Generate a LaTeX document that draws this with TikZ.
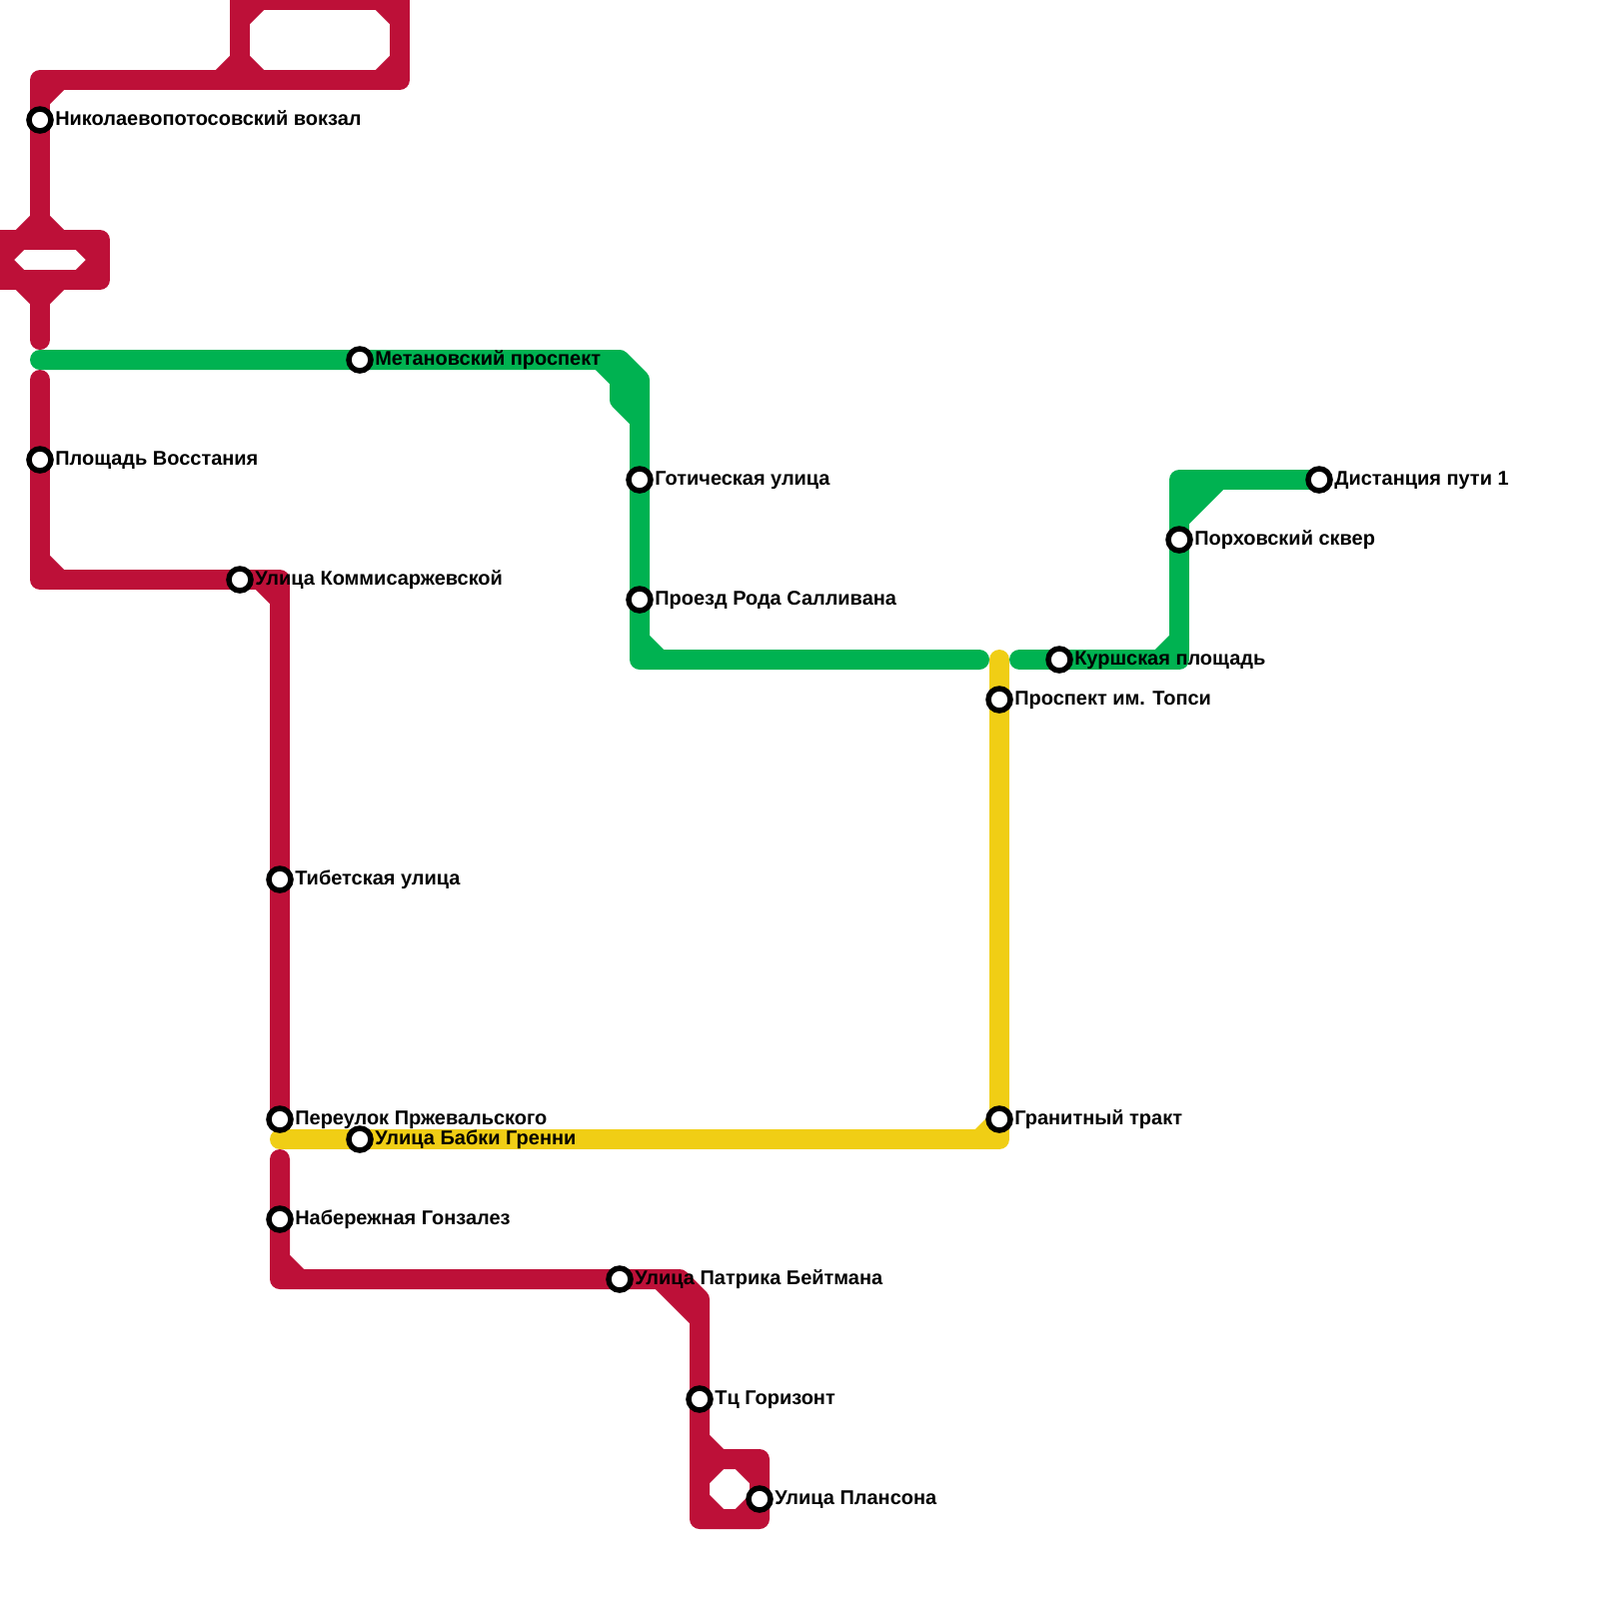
\documentclass[tikz,border=0pt]{standalone}
\usepackage{fontspec}
\setmainfont{Liberation Sans}
\usetikzlibrary{positioning,backgrounds}
\definecolor{linered}{HTML}{BD1038}
\definecolor{linegreen}{HTML}{00B251}
\definecolor{lineyellow}{HTML}{F0CE15}
\tikzset{
	station/.style={draw=black, circle, fill=white, line width=0.55mm, minimum size=2.2mm, inner sep=0pt},
	caption/.style={inner sep=0pt, text height=1.4mm, text depth=0.4mm, font=\fontsize{5.68}{6}\selectfont\bfseries},
	redline/.style={draw=linered, line width=2mm, line join=round, line cap=round},
	greenline/.style={draw=linegreen, line width=2mm, line join=round, line cap=round},
	yellowline/.style={draw=lineyellow, line width=2mm, line join=round, line cap=round}
}

\begin{document}
\begin{tikzpicture}[x=0.1mm, y=-0.1mm, node distance=0.085mm]
	\useasboundingbox (0,0) rectangle (1600,1600);

	\node[station] (nikolaev) at (40,120) {};
	\node[station] (vosstaniya) at (40,460) {};
	\node[station] (kommis) at (240,580) {};
	\node[station] (tibet) at (280,880) {};
	\node[station] (przhev) at (280,1120) {};
	\node[station] (gonzalez) at (280,1220) {};
	\node[station] (bateman) at (620,1280) {};
	\node[station] (horizon) at (700,1400) {};
	\node[station] (planson) at (760,1500) {};
	\node[station] (metan) at (360,360) {};
	\node[station] (gothic) at (640,480) {};
	\node[station] (sullivan) at (640,600) {};
	\node[station] (kursk) at (1060,660) {};
	\node[station] (porkhov) at (1180,540) {};
	\node[station] (distance) at (1320,480) {};
	\node[station] (grenny) at (360,1140) {};
	\node[station] (topsy) at (1000,700) {};
	\node[station] (granite) at (1000,1120) {};

	\node[caption, right=of nikolaev] {Николаевопотосовский вокзал};
	\node[caption, right=of vosstaniya] {Площадь Восстания};
	\node[caption, right=of kommis] {Улица Коммисаржевской};
	\node[caption, right=of tibet] {Тибетская улица};
	\node[caption, right=of przhev] {Переулок Пржевальского};
	\node[caption, right=of gonzalez] {Набережная Гонзалез};
	\node[caption, right=of bateman] {Улица Патрика Бейтмана};
	\node[caption, right=of horizon] {Тц Горизонт};
	\node[caption, right=of planson] {Улица Плансона};
	\node[caption, right=of metan] {Метановский проспект};
	\node[caption, right=of gothic] {Готическая улица};
	\node[caption, right=of sullivan] {Проезд Рода Салливана};
	\node[caption, right=of kursk] {Куршская площадь};
	\node[caption, right=of porkhov] {Порховский сквер};
	\node[caption, right=of distance] {Дистанция пути 1};
	\node[caption, right=of grenny] {Улица Бабки Гренни};
	\node[caption, right=of topsy] {Проспект им. Топси};
	\node[caption, right=of granite] {Гранитный тракт};

	\coordinate (topleft) at (40,80);
	\coordinate (ringa) at (240,80);
	\coordinate (ringb) at (240,0);
	\coordinate (ringc) at (400,0);
	\coordinate (ringd) at (400,80);
	\coordinate (crossa) at (40,240);
	\coordinate (crossb) at (40,280);
	\coordinate (crossleft) at (0,240);
	\coordinate (crossright) at (100,240);
	\coordinate (redend) at (40,340);
	\coordinate (redstart) at (40,380);
	\coordinate (redbend) at (40,580);
	\coordinate (redturn) at (280,580);
	\coordinate (lowstart) at (280,1160);
	\coordinate (lowbend) at (280,1280);
	\coordinate (lowturn) at (680,1280);
	\coordinate (lowdown) at (700,1300);
	\coordinate (loopa) at (700,1460);
	\coordinate (loopb) at (700,1520);
	\coordinate (loopc) at (760,1520);
	\coordinate (loopd) at (760,1460);
	\coordinate (greenstart) at (40,360);
	\coordinate (greenturn) at (620,360);
	\coordinate (greendown) at (640,380);
	\coordinate (greenbend) at (640,660);
	\coordinate (greenend) at (980,660);
	\coordinate (eaststart) at (1020,660);
	\coordinate (eastbend) at (1180,660);
	\coordinate (easttop) at (1180,480);
	\coordinate (yellowstart) at (280,1140);
	\coordinate (yellowbend) at (1000,1140);
	\coordinate (yellowend) at (1000,660);

	\begin{scope}[on background layer]
		% red
		\draw[redline] (nikolaev.center) -- (topleft) -- (ringd) -- (ringc) -- (ringb) -- (ringa);
		\draw[redline] (topleft) ++(0,20) -- ++(20,-20);
		\draw[redline] (ringa) ++(-20,0) -- ++(20,-20) -- ++(20,20);
		\draw[redline] (ringb) ++(0,20) -- ++(20,-20);
		\draw[redline] (ringc) ++(-20,0) -- ++(20,20);
		\draw[redline] (ringd) ++(0,-20) -- ++(-20,20);
		\draw[redline] (nikolaev.center) -- (crossa);
		\draw[redline] (crossleft) -- (crossright) -- (100,280) -- (0,280) -- cycle;
		\draw[redline] (crossa) ++(-20,0) -- ++(20,-20) -- ++(20,20);
		\draw[redline] (crossb) ++(-20,0) -- ++(20,20) -- ++(20,-20);
		\draw[redline] (crossleft) ++(20,0) -- ++(-20,20) -- ++(20,20);
		\draw[redline] (crossright) ++(-20,0) -- ++(20,20) -- ++(-20,20);
		\draw[redline] (crossb) -- (redend);
		\draw[redline] (redstart) -- (vosstaniya.center) -- (redbend) -- (kommis.center) -- (redturn) -- (tibet.center) -- (przhev.center);
		\draw[redline] (redbend) ++(0,-20) -- ++(20,20);
		\draw[redline] (redturn) ++(-20,0) -- ++(20,20);
		\draw[redline] (lowstart) -- (gonzalez.center) -- (lowbend) -- (bateman.center) -- (lowturn) -- (lowdown) -- (horizon.center) -- (loopb) -- (loopc) -- (loopd) -- (loopa);
		\draw[redline] (lowbend) ++(0,-20) -- ++(20,20);
		\draw[redline] (lowturn) ++(-20,0) -- ++(40,40);
		\draw[redline] (loopa) ++(0,-20) -- ++(20,20);
		\draw[redline] (loopa) ++(0,20) -- ++(20,-20);
		\draw[redline] (loopd) ++(-20,0) -- ++(20,20);
		\draw[redline] (loopc) ++(0,-20) -- ++(-20,20);
		\draw[redline] (loopb) ++(0,-20) -- ++(20,20);
		% green
		\draw[greenline] (greenstart) -- (metan.center) -- (greenturn) -- (greendown) -- (gothic.center) -- (sullivan.center) -- (greenbend) -- (greenend);
		\draw[greenline] (greenturn) ++(-20,0) -- ++(20,20) -- ++(0,20) -- ++(20,20);
		\draw[greenline] (greenbend) ++(0,-20) -- ++(20,20);
		\draw[greenline] (eaststart) -- (kursk.center) -- (eastbend) -- (porkhov.center) -- (easttop) -- (distance.center);
		\draw[greenline] (eastbend) ++(-20,0) -- ++(20,-20);
		\draw[greenline] (easttop) ++(0,40) -- ++(40,-40);
		\draw[greenline] (easttop) ++(0,20) -- ++(20,-20);
		% yellow
		\draw[yellowline] (yellowstart) -- (grenny.center) -- (yellowbend) -- (granite.center) -- (topsy.center) -- (yellowend);
		\draw[yellowline] (yellowbend) ++(-20,0) -- ++(20,-20);
	\end{scope}
\end{tikzpicture}
\end{document}
